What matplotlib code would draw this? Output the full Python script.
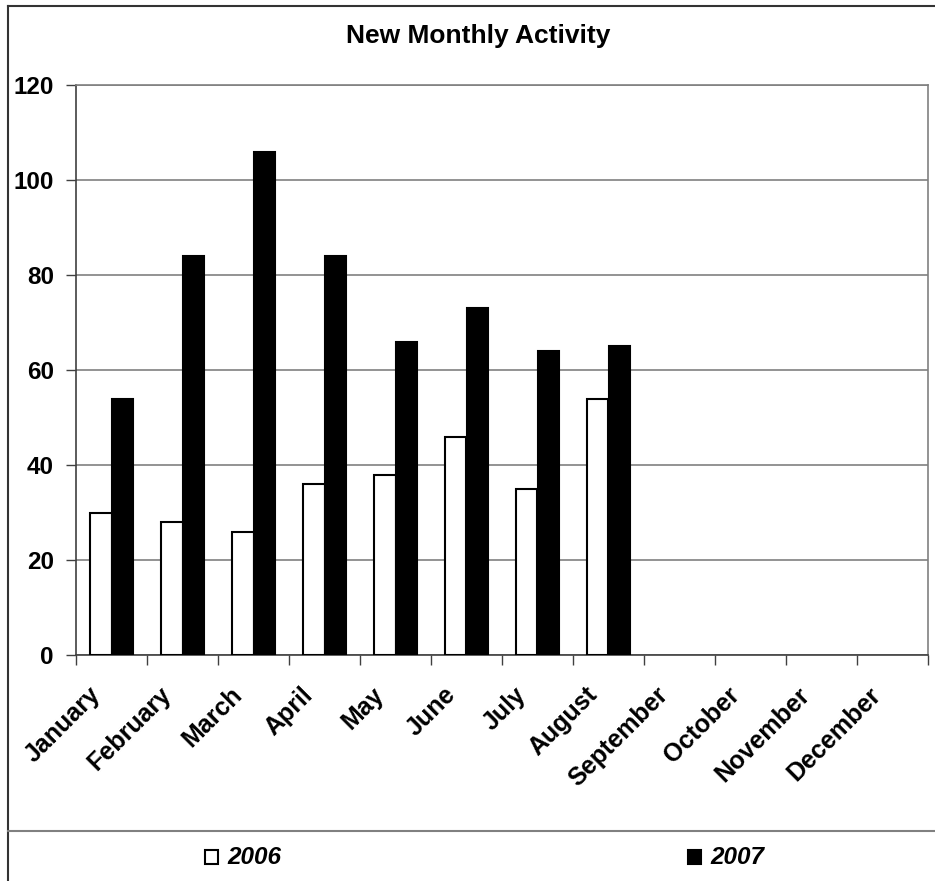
import numpy as np
import matplotlib.pyplot as plt
from matplotlib.lines import Line2D
from matplotlib.patches import Rectangle
from matplotlib.transforms import ScaledTranslation

plt.rcParams['font.family'] = ['Liberation Sans', 'DejaVu Sans']

# data
months = ["January", "February", "March", "April", "May", "June", "July",
          "August", "September", "October", "November", "December"]
act_2006 = [30, 28, 26, 36, 38, 46, 35, 54]
act_2007 = [54, 84, 106, 84, 66, 73, 64, 65]
y_ticks = [0, 20, 40, 60, 80, 100, 120]

W, H = 935, 881
fig = plt.figure(figsize=(W / 100, H / 100), dpi=100)
ax = fig.add_axes([76 / W, 1 - 655 / H, (928 - 76) / W, (655 - 85) / H])

x06 = np.arange(len(act_2006))
bw = 0.3
ax.bar(x06 - bw / 2, act_2006, bw, color='white', edgecolor='black', linewidth=1.5, zorder=3)
ax.bar(x06 + bw / 2, act_2007, bw, color='black', edgecolor='black', linewidth=1.5, zorder=3)

ax.set_xlim(-0.5, len(months) - 0.5)
ax.set_ylim(0, 120)
ax.set_yticks(y_ticks)
ax.set_yticklabels([str(v) for v in y_ticks], fontsize=17.5, fontweight='bold')
ax.yaxis.grid(True, color='#808080', linewidth=1.2, zorder=0)
ax.tick_params(axis='y', length=7, width=1, pad=9, color='#404040')

# category boundaries as major ticks, labels on the centers
ax.set_xticks(np.arange(len(months) + 1) - 0.5)
ax.set_xticklabels([])
ax.tick_params(axis='x', which='major', length=7, width=1, color='#404040')
ax.set_xticks(np.arange(len(months)), minor=True)
ax.set_xticklabels(months, minor=True, rotation=45, ha='right', va='center',
                   rotation_mode='anchor', fontsize=18, fontweight='bold')
ax.tick_params(axis='x', which='minor', length=0, pad=26)
shift = ScaledTranslation(-15 / 100, 0, fig.dpi_scale_trans)
for lab in ax.get_xticklabels(minor=True):
    lab.set_transform(lab.get_transform() + shift)

for side in ['left', 'bottom']:
    ax.spines[side].set_color('#404040')
    ax.spines[side].set_linewidth(1.2)
for side in ['top', 'right']:
    ax.spines[side].set_color('#808080')
    ax.spines[side].set_linewidth(1.2)

fig.text(478 / W, 1 - 36 / H, "New Monthly Activity", ha='center', va='center',
         fontsize=19, fontweight='bold')

# chart frame and legend strip
fig.add_artist(Line2D([8 / W, 8 / W], [0, 1 - 6 / H], color='#333333', linewidth=1.5))
fig.add_artist(Line2D([8 / W, 1], [1 - 6 / H, 1 - 6 / H], color='#333333', linewidth=1.5))
fig.add_artist(Line2D([8 / W, 1], [1 - 831 / H, 1 - 831 / H], color='#808080', linewidth=1.5))

legend_items = [("2006", 'white', 205), ("2007", 'black', 688)]
for label, fc, xpx in legend_items:
    fig.add_artist(Rectangle((xpx / W, 1 - 864 / H), 13 / W, 14 / H, facecolor=fc,
                             edgecolor='black', linewidth=1.5, transform=fig.transFigure))
    fig.text((xpx + 22) / W, 1 - 857 / H, label, ha='left', va='center',
             fontsize=17.5, fontweight='bold', fontstyle='italic')

fig.savefig('out.png', dpi=100)
